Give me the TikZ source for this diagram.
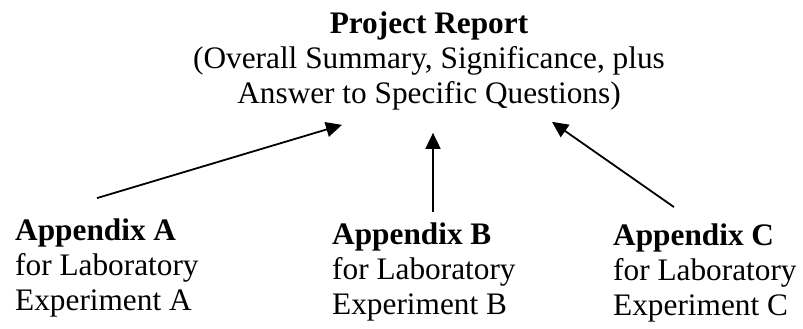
\documentclass[tikz,border=0pt]{standalone}
\usepackage{fontspec}
\setmainfont{Liberation Serif}
\usetikzlibrary{arrows.meta,calc}
\begin{document}
\begin{tikzpicture}[x=1pt,y=-1pt,
  txt/.style={inner sep=0pt,font=\fontsize{31.3}{35}\selectfont},
  arr/.style={line width=1.8pt,-{Triangle[length=16pt,width=15pt]}}]
\useasboundingbox[fill=white] (0,0) rectangle (803,329);
\node[txt,align=center,anchor=base] (rep) at (429,103)
  {\textbf{Project Report}\\(Overall Summary, Significance, plus\\Answer to Specific Questions)};
\node[txt,align=left,anchor=base west] (apA) at (15,310)
  {\textbf{Appendix A}\\for Laboratory\\Experiment A};
\node[txt,align=left,anchor=base west] (apB) at (332,314)
  {\textbf{Appendix B}\\for Laboratory\\Experiment B};
\node[txt,align=left,anchor=base west] (apC) at (613,315)
  {\textbf{Appendix C}\\for Laboratory\\Experiment C};
\draw[arr] ($(apA.north west)+(82,-20)$) -- ($(rep.south)+(-87,15)$);
\draw[arr] ($(apB.north west)+(101,-10)$) -- ($(rep.south)+(4,23)$);
\draw[arr] ($(apC.north west)+(61,-16)$) -- ($(rep.south)+(123,12)$);
\end{tikzpicture}
\end{document}
